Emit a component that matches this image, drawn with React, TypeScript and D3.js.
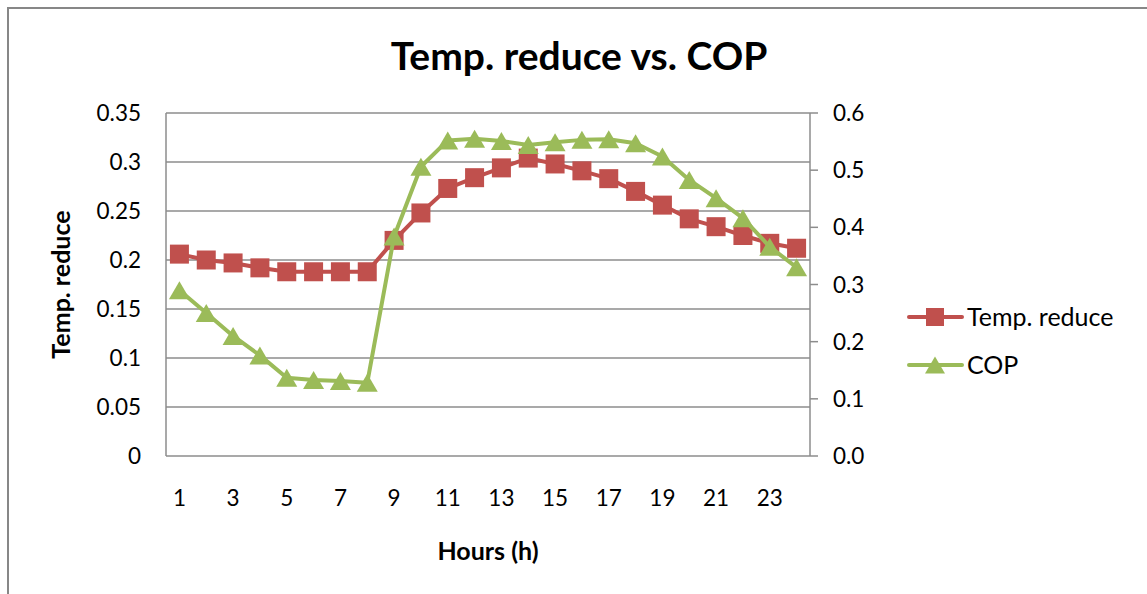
import React from "react";
import * as d3 from "d3";

const hours = Array.from({ length: 24 }, (_, i) => String(i + 1));
const tempReduce = [0.206, 0.2, 0.197, 0.192, 0.188, 0.188, 0.188, 0.188, 0.22, 0.248, 0.273, 0.284, 0.294, 0.304, 0.298, 0.291, 0.283, 0.27, 0.256, 0.242, 0.234, 0.225, 0.217, 0.212];
const cop = [0.29, 0.25, 0.21, 0.176, 0.137, 0.133, 0.131, 0.128, 0.384, 0.506, 0.552, 0.555, 0.551, 0.544, 0.549, 0.553, 0.554, 0.547, 0.524, 0.483, 0.451, 0.416, 0.366, 0.33];
const leftTicks = [0, 0.05, 0.1, 0.15, 0.2, 0.25, 0.3, 0.35];
const rightTicks = [0, 0.1, 0.2, 0.3, 0.4, 0.5, 0.6];
const xLabels = ["1", "3", "5", "7", "9", "11", "13", "15", "17", "19", "21", "23"];

const W = 1147;
const H = 594;
const L = 166, R = 810, T = 113, B = 456;
const RED = "#C0504D";
const GREEN = "#9BBB59";
const GRID = "#8C8C8C";
const FONT = "Lato, 'Open Sans', sans-serif";

const tri = (w: number, h: number) => `M0,${-h / 2}L${w / 2},${h / 2}L${-w / 2},${h / 2}Z`;

export default function App() {
  const x = d3.scalePoint<string>().domain(hours).range([L, R]).padding(0.5);
  const yL = d3.scaleLinear().domain([0, 0.35]).range([B, T]);
  const yR = d3.scaleLinear().domain([0, 0.6]).range([B, T]);
  const lineL = d3.line<number>().x((_, i) => x(hours[i])!).y((d) => yL(d));
  const lineR = d3.line<number>().x((_, i) => x(hours[i])!).y((d) => yR(d));

  return (
    <svg width={W} height={H} style={{ position: "absolute", left: 0, top: 0 }}>
      <rect x={0} y={0} width={W} height={H} fill="#fff" />
      <rect x={8} y={8} width={W + 20} height={H + 20} fill="#fff" stroke="#878787" strokeWidth={2} />
      <text x={579} y={70} textAnchor="middle" fontFamily={FONT} fontWeight="bold" fontSize={39} fill="#000">
        Temp. reduce vs. COP
      </text>
      {leftTicks.map((t) => (
        <g key={"l" + t}>
          <line x1={L} x2={R} y1={yL(t)} y2={yL(t)} stroke={GRID} strokeWidth={1.5} />
          <text x={141} y={yL(t) + 8} textAnchor="end" fontFamily={FONT} fontSize={22.5} fill="#000">
            {String(t)}
          </text>
        </g>
      ))}
      <line x1={L} x2={L} y1={T} y2={B} stroke={GRID} strokeWidth={1.5} />
      <line x1={R} x2={R} y1={T} y2={B} stroke={GRID} strokeWidth={1.5} />
      {rightTicks.map((t) => (
        <g key={"r" + t}>
          <line x1={R} x2={R + 8} y1={yR(t)} y2={yR(t)} stroke={GRID} strokeWidth={1.5} />
          <text x={833} y={yR(t) + 8} textAnchor="start" fontFamily={FONT} fontSize={22.5} fill="#000">
            {t.toFixed(1)}
          </text>
        </g>
      ))}
      {xLabels.map((h) => (
        <text key={"x" + h} x={x(h)} y={506} textAnchor="middle" fontFamily={FONT} fontSize={22.5} fill="#000">
          {h}
        </text>
      ))}
      <text x={(L + R) / 2} y={560} textAnchor="middle" fontFamily={FONT} fontWeight="bold" fontSize={25} fill="#000">
        Hours (h)
      </text>
      <text
        transform={`translate(70,${(T + B) / 2}) rotate(-90)`}
        textAnchor="middle"
        fontFamily={FONT}
        fontWeight="bold"
        fontSize={25}
        fill="#000"
      >
        Temp. reduce
      </text>

      <path d={lineL(tempReduce) ?? ""} fill="none" stroke={RED} strokeWidth={4} strokeLinejoin="round" />
      {tempReduce.map((v, i) => (
        <rect key={"s" + i} x={x(hours[i])! - 9.5} y={yL(v) - 9.5} width={19} height={19} fill={RED} />
      ))}
      <path d={lineR(cop) ?? ""} fill="none" stroke={GREEN} strokeWidth={4} strokeLinejoin="round" />
      {cop.map((v, i) => (
        <path key={"t" + i} d={tri(21, 18)} transform={`translate(${x(hours[i])},${yR(v)})`} fill={GREEN} />
      ))}

      <g>
        <line x1={909} x2={962} y1={317} y2={317} stroke={RED} strokeWidth={4} strokeLinecap="round" />
        <rect x={926} y={308} width={18} height={18} fill={RED} />
        <text x={967} y={326} fontFamily={FONT} fontSize={25} fill="#000">Temp. reduce</text>
        <line x1={909} x2={962} y1={365} y2={365} stroke={GREEN} strokeWidth={4} strokeLinecap="round" />
        <path d={tri(20, 17)} transform="translate(935,365)" fill={GREEN} />
        <text x={967} y={374} fontFamily={FONT} fontSize={25} fill="#000">COP</text>
      </g>
    </svg>
  );
}
